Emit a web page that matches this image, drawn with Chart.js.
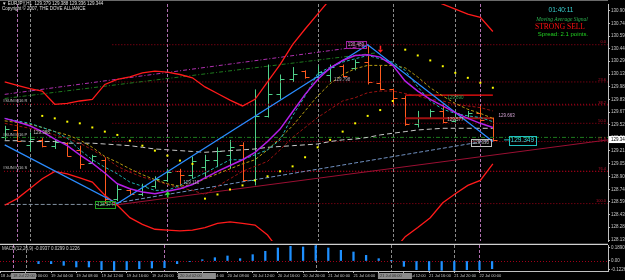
<!DOCTYPE html>
<html>
<head>
<meta charset="utf-8">
<script src="https://cdn.jsdelivr.net/npm/chart.js@4.4.1/dist/chart.umd.min.js"></script>
<style>
  html, body { margin: 0; padding: 0; background: #000; }
  #marco { position: relative; width: 625px; height: 280px; overflow: hidden; background: #000; }
  #precio { position: absolute; left: 0; top: 0; }
  #macd { position: absolute; left: 0; top: 245px; }
</style>
</head>
<body>
<div id="marco">
  <canvas id="precio" width="625" height="245"></canvas>
  <canvas id="macd" width="625" height="35"></canvas>
</div>
<script>
/******************** datos de la grafica (EURJPY) ********************/

var velaApertura = [129.38,129.46,129.28,129.34,129.26,129.30,129.22,129.06,129.10,128.63,
  128.73,128.69,128.78,128.85,128.96,128.92,129.01,129.10,129.16,129.28,
  128.86,129.63,129.90,130.08,130.17,130.10,130.13,130.23,130.21,130.28,
  130.03,129.95,129.85,129.53,129.61,129.69,129.57,129.62,129.67,129.60];
var velaMaximo = [129.51,129.54,129.43,129.36,129.34,129.31,129.27,129.16,129.13,128.80,
  128.75,128.81,128.90,128.99,128.99,129.14,129.16,129.25,129.34,129.31,
  129.95,130.25,130.13,130.22,130.18,130.24,130.25,130.25,130.31,130.49,
  130.24,129.96,129.87,129.69,129.71,129.77,129.69,129.69,129.75,129.61];
var velaMinimo = [129.34,129.32,129.20,129.25,129.23,129.14,128.99,129.05,128.57,128.60,
  128.68,128.66,128.75,128.83,128.78,128.87,128.89,129.01,128.99,128.83,
  128.79,129.61,129.83,130.04,130.08,130.07,130.04,130.10,130.18,130.01,
  129.94,129.77,129.51,129.49,129.60,129.54,129.55,129.60,129.54,129.32];
var velaCierre = [129.47,129.33,129.35,129.26,129.31,129.15,129.05,129.14,128.62,128.75,
  128.69,128.78,128.87,128.95,128.92,129.08,129.10,129.20,129.25,128.86,
  129.63,129.90,130.08,130.14,130.10,130.16,130.22,130.11,130.28,130.04,
  129.95,129.85,129.53,129.60,129.69,129.56,129.67,129.67,129.58,129.344];

var mediaMorada = [129.60,129.56,129.51,129.44,129.35,129.27,129.16,129.06,128.94,128.81,
  128.75,128.71,128.69,128.72,128.75,128.80,128.88,128.96,129.03,129.10,
  129.19,129.32,129.47,129.68,129.89,130.07,130.21,130.30,130.36,130.37,
  130.34,130.24,130.05,129.93,129.83,129.75,129.67,129.60,129.54,129.49];
var mediaTurquesa = [129.60,129.57,129.54,129.49,129.44,129.36,129.22,129.10,129.01,128.93,
  128.83,128.78,128.73,128.73,128.79,128.87,128.94,129.02,129.10,129.10,
  129.16,129.22,129.34,129.63,129.87,130.14,130.22,130.28,130.32,130.36,
  130.32,130.28,130.18,129.98,129.81,129.71,129.66,129.63,129.61,129.56];
var mediaOliva = [129.57,129.55,129.53,129.49,129.44,129.40,129.34,129.25,129.14,129.07,
  128.99,128.92,128.86,128.81,128.78,128.80,128.87,128.93,128.99,129.05,
  129.10,129.22,129.36,129.51,129.69,129.87,130.02,130.13,130.20,130.24,
  130.24,130.24,130.21,130.10,129.97,129.87,129.78,129.71,129.66,129.60];
var mediaGranate = [129.54,129.51,129.48,129.44,129.40,129.36,129.30,129.22,129.13,129.02,
  128.95,128.89,128.85,128.80,128.76,128.73,128.68,128.78,128.87,128.96,
  129.02,129.08,129.22,129.37,129.49,129.61,129.71,129.81,129.85,129.91,
  129.93,129.93,129.90,129.87,129.83,129.81,129.77,129.75,129.73,129.69];
var mediaGris = [129.33,129.33,129.32,129.32,129.32,129.30,129.30,129.30,129.29,129.28,
  129.27,129.25,129.23,129.22,129.21,129.20,129.19,129.20,129.21,129.22,
  129.23,129.25,129.26,129.27,129.28,129.29,129.32,129.34,129.35,129.37,
  129.40,129.42,129.44,129.46,129.47,129.48,129.48,129.48,129.48,129.48];

var bandaSuperior = [130.04,130.00,129.96,129.93,129.77,129.78,129.81,129.83,130.01,130.07,
  130.10,130.15,130.17,130.16,130.13,130.09,129.98,129.90,129.82,129.75,
  129.83,130.04,130.25,130.49,130.68,130.86,131.04,131.16,131.24,131.28,
  131.26,131.22,131.16,131.10,131.04,130.98,130.92,130.86,130.82,130.65];
var bandaInferior = [128.55,128.63,128.75,128.87,128.96,128.93,128.88,128.83,128.67,128.55,
  128.40,128.32,128.26,128.25,128.24,128.25,128.28,128.33,128.35,128.33,
  128.31,128.19,127.99,127.81,127.64,127.52,127.46,127.46,127.48,127.58,
  127.75,127.99,128.17,128.28,128.40,128.58,128.69,128.79,128.85,129.05];

var sarPuntos = [null,null,null,129.63,129.60,129.56,129.54,129.49,129.44,129.40,
  129.33,129.27,129.21,129.15,129.09,129.05,128.63,128.68,128.74,128.79,
  128.85,128.90,128.96,129.02,129.13,129.25,129.34,129.44,129.54,129.63,
  129.70,129.81,130.43,130.36,130.30,130.23,130.15,130.09,130.03,129.97];

var macdHist = [null,null,null,-0.039,-0.039,-0.063,-0.087,-0.087,-0.126,-0.136,
  -0.126,-0.112,-0.102,-0.097,-0.039,-0.005,0.019,0.048,0.073,0.034,
  0.092,0.141,0.189,0.213,0.204,0.223,0.189,0.155,0.131,0.082,
  0.034,0.002,-0.078,-0.126,-0.136,-0.136,-0.136,-0.126,-0.126,-0.112];

// lineas de tendencia [barra, precio]
var lineaZigzag = [[0,129.28],[9,128.57],[29,130.49],[39,129.32]];
var lineaSoporte = [[9,128.58],[39,129.34]];
var lineaBaseGris = [[0,128.56],[9,128.56]];
var lineaGranate = [[8.7,128.55],[48.2,129.34]];
var canalMagenta = [[0,129.89],[29,130.48]];
var canalVerde = [[0,129.84],[29.6,130.39]];

// niveles horizontales
var fiboNiveles = ['0.0','23.6','38.2','50.0','61.8','76.4','100.0'];
var fiboPrecios = [130.49,130.04,129.76,129.54,129.32,128.96,128.57];
var pivotNombres = ['#SUN#Q16 R','#SUN#Q16 P','#SUN#Q16 S'];
var pivotPrecios = [129.77,129.37,128.96];
var ordenPrecios = [129.88,129.60];

var barrasVerticales = [1,2,13,25,31,36,38];

var ejePrecios = [130.900,130.745,130.595,130.440,130.290,130.135,129.985,129.830,129.675,129.520,
  129.365,129.210,129.055,128.900,128.740,128.590,128.435,128.285,128.130];
var ejePreciosTexto = ['130.900','130.745','130.595','130.440','130.290','130.135','129.985','129.830','129.675','129.520',
  '129.365','129.210','129.055','128.900','128.740','128.590','128.435','128.285','128.130'];

var ejeTiempoBarras = [0,2,4,6,8,10,12,14,16,18,20,22,24,26,28,30,32,34,36,38];
var ejeTiempoTexto = ['18 Jul 2007','19 Jul 00:00','19 Jul 04:00','19 Jul 08:00','19 Jul 12:00','19 Jul 16:00',
  '19 Jul 20:00','20 Jul 00:00','20 Jul 04:00','20 Jul 08:00','20 Jul 12:00','20 Jul 16:00','20 Jul 20:00',
  '21 Jul 00:00','21 Jul 04:00','21 Jul 08:00','21 Jul 12:00','21 Jul 16:00','21 Jul 20:00','22 Jul 00:00'];
var cajasTiempo = [[0.82,2.8,'18 Jul 22:00'],[14.07,17.08,'20 Jul 02:00'],[29.94,32.64,'21 Jul 06:00']];

var ejeMacd = [0.1890,0,-0.1226];
var ejeMacdTexto = ['0.1890','0.00','-0.1226'];

var precioActual = 129.344;
var xMin = -0.056, xMax = 48.2;

Chart.defaults.font.family = 'Liberation Sans, DejaVu Sans, sans-serif';

/******************** ayudas ********************/

function serie(arr) {
  return arr.map(function (v, i) { return { x: i, y: v }; });
}
function tramo(p) {
  return p.map(function (q) { return { x: q[0], y: q[1] }; });
}
function linea(data, color, ancho, guion, orden) {
  return { data: data, borderColor: color, borderWidth: ancho, borderDash: guion || [],
    pointRadius: 0, fill: false, tension: 0, order: orden, spanGaps: false };
}

var colorAlza = '#4fd08a';
var colorBaja = '#ff5a1e';

/******************** plugins ********************/

var fondoNegro = {
  id: 'fondoNegro',
  beforeDraw: function (chart) {
    var ctx = chart.ctx;
    ctx.save();
    ctx.fillStyle = '#000';
    ctx.fillRect(0, 0, chart.width, chart.height);
    ctx.restore();
  }
};

function dibujarVerticales(chart) {
  var ctx = chart.ctx, xs = chart.scales.x, a = chart.chartArea;
  ctx.save();
  ctx.lineWidth = 1;
  ctx.setLineDash([3, 2]);
  barrasVerticales.forEach(function (b, k) {
    var x = Math.round(xs.getPixelForValue(b)) + 0.5;
    ctx.strokeStyle = (k === 0 || k === 2 || k === 6) ? '#b070b0' : '#8a8a8a';
    ctx.beginPath();
    ctx.moveTo(x, a.top);
    ctx.lineTo(x, a.bottom);
    ctx.stroke();
  });
  ctx.restore();
}

var velas = {
  id: 'velas',
  beforeDatasetsDraw: function (chart) {
    dibujarVerticales(chart);
    var ctx = chart.ctx, xs = chart.scales.x, ys = chart.scales.y;
    ctx.save();
    ctx.lineWidth = 1;
    for (var i = 0; i < velaApertura.length; i++) {
      var x = Math.round(xs.getPixelForValue(i)) + 0.5;
      ctx.strokeStyle = velaCierre[i] >= velaApertura[i] ? colorAlza : colorBaja;
      var yo = Math.round(ys.getPixelForValue(velaApertura[i])) + 0.5;
      var yc = Math.round(ys.getPixelForValue(velaCierre[i])) + 0.5;
      ctx.beginPath();
      ctx.moveTo(x, ys.getPixelForValue(velaMaximo[i]));
      ctx.lineTo(x, ys.getPixelForValue(velaMinimo[i]));
      ctx.moveTo(x - 4, yo); ctx.lineTo(x, yo);
      ctx.moveTo(x, yc); ctx.lineTo(x + 4, yc);
      ctx.stroke();
    }
    ctx.restore();
  }
};

function caja(ctx, txt, cx, cy, borde, color, tam, relleno) {
  ctx.font = tam + 'px Liberation Sans';
  var w = ctx.measureText(txt).width + 4, h = tam + 2;
  if (relleno) { ctx.fillStyle = relleno; ctx.fillRect(cx - w / 2, cy - h / 2, w, h); }
  if (borde) {
    ctx.strokeStyle = borde; ctx.lineWidth = 1;
    ctx.strokeRect(Math.round(cx - w / 2) + 0.5, Math.round(cy - h / 2) + 0.5, Math.round(w), Math.round(h));
  }
  ctx.fillStyle = color;
  ctx.textAlign = 'center';
  ctx.textBaseline = 'middle';
  ctx.fillText(txt, cx, cy + 0.5);
}

var notas = {
  id: 'notas',
  afterDraw: function (chart) {
    var ctx = chart.ctx, xs = chart.scales.x, ys = chart.scales.y, a = chart.chartArea;
    function px(b) { return xs.getPixelForValue(b); }
    function py(p) { return ys.getPixelForValue(p); }
    ctx.save();

    // separador con la ventana del MACD y borde superior
    ctx.strokeStyle = '#d0d0d0';
    ctx.lineWidth = 1.5;
    ctx.beginPath(); ctx.moveTo(0, 244.5); ctx.lineTo(a.right, 244.5); ctx.stroke();
    ctx.strokeStyle = '#6a6a6a';
    ctx.lineWidth = 1;
    ctx.beginPath(); ctx.moveTo(0, 0.5); ctx.lineTo(a.right, 0.5); ctx.stroke();

    // etiquetas de fibonacci
    ctx.font = '4px Liberation Sans';
    ctx.fillStyle = '#b0102a';
    ctx.textAlign = 'right';
    ctx.textBaseline = 'bottom';
    fiboNiveles.forEach(function (t, k) { ctx.fillText(t, a.right - 2, py(fiboPrecios[k]) - 0.5); });

    // etiquetas de pivotes
    ctx.fillStyle = '#c8c8c8';
    ctx.textAlign = 'left';
    pivotNombres.forEach(function (t, k) { ctx.fillText(t, 3, py(pivotPrecios[k]) - 1); });

    // cajas y textos de precio
    caja(ctx, '130.489', px(28.05), py(130.50), '#a020a0', '#e0a0e0', 4.5);
    caja(ctx, '128.574', px(8.05), py(128.56), '#20a020', '#60d060', 4.5);
    caja(ctx, '129.330', px(38.05), py(129.31), '#c0c0c0', '#c0c0c0', 4.5);
    caja(ctx, '129.349', px(41.35), py(129.34), '#20c0c0', '#30d8d8', 6.5);
    caja(ctx, '129.798', px(26.95), py(130.07), null, '#b8a8b8', 4.5);
    caja(ctx, '129.110', px(14.9), py(128.83), null, '#b8a8b8', 4.5);
    caja(ctx, '129.890', px(36.0), py(129.86), null, '#30a050', 4.5);
    caja(ctx, '129.577', px(36.0), py(129.59), null, '#c0c0c0', 4.5);
    caja(ctx, '129.663', px(40.1), py(129.64), null, '#d0a0d0', 4.5);
    caja(ctx, '129.388', px(2.95), py(129.43), null, '#c0c0c0', 4.5);
    ctx.strokeStyle = '#20c0c0';
    ctx.beginPath(); ctx.moveTo(px(39.9), py(129.34)); ctx.lineTo(px(40.4), py(129.34)); ctx.stroke();

    // flecha de venta y de compra
    var fx = px(30), fy = py(130.43);
    ctx.fillStyle = '#ff2020';
    ctx.fillRect(fx - 0.5, fy - 4, 1.5, 4);
    ctx.beginPath(); ctx.moveTo(fx - 2.5, fy); ctx.lineTo(fx + 3, fy); ctx.lineTo(fx + 0.25, fy + 3); ctx.fill();
    fx = px(13); fy = py(128.68);
    ctx.fillStyle = '#30e030';
    ctx.fillRect(fx - 0.5, fy - 1, 1.5, 4);
    ctx.beginPath(); ctx.moveTo(fx - 2.5, fy); ctx.lineTo(fx + 3, fy); ctx.lineTo(fx + 0.25, fy - 3); ctx.fill();

    // precio actual en el eje
    var yp = py(precioActual);
    ctx.fillStyle = '#ffffff';
    ctx.fillRect(a.right + 1, yp - 3.5, 17, 7);
    ctx.fillStyle = '#000';
    ctx.font = '4.5px Liberation Sans';
    ctx.textAlign = 'left';
    ctx.textBaseline = 'middle';
    ctx.fillText(precioActual.toFixed(3), a.right + 3, yp);

    // encabezado
    ctx.fillStyle = '#e0e0e0';
    ctx.font = '4.5px Liberation Sans, DejaVu Sans';
    ctx.textBaseline = 'middle';
    ctx.fillText('\u25BC EURJPY,H1  129.379 129.388 129.336 129.344', 2, 3.5);
    ctx.fillText('Copyright \u00A9 2007, THE DOVE ALLIANCE', 2, 8.5);

    // panel de senal
    ctx.textAlign = 'center';
    ctx.fillStyle = '#38d0d0';
    ctx.font = '6.5px Liberation Sans';
    ctx.fillText('01:40:11', 561, 10.5);
    ctx.fillStyle = '#2cb050';
    ctx.font = 'italic 5.5px Liberation Serif';
    ctx.fillText('Moving Average Signal', 562, 19.5);
    ctx.fillStyle = '#ff1010';
    ctx.font = '7.5px Liberation Serif';
    ctx.fillText('STRONG SELL', 560, 27.5);
    ctx.fillStyle = '#22d022';
    ctx.font = '6px Liberation Sans';
    ctx.fillText('Spread: 2.1 points.', 563, 34.5);

    ctx.restore();
  }
};

/******************** grafica de precio ********************/

var conjuntos = [
  Object.assign(linea(serie(sarPuntos), '#ffff00', 0, [], 0),
    { showLine: false, pointRadius: 1.4, pointStyle: 'rect', pointBackgroundColor: '#ffff00', pointBorderWidth: 0 }),
  linea(serie(mediaMorada), '#b41ee8', 1.5, [], 1),
  linea(tramo(lineaZigzag), '#2a8cff', 1.3, [], 2),
  linea(serie(bandaSuperior), '#ff1a1a', 1.3, [], 2),
  linea(serie(bandaInferior), '#ff1a1a', 1.3, [], 2),
  linea(serie(mediaTurquesa), '#20b0b0', 1, [3, 2], 3),
  linea(serie(mediaOliva), '#b49a10', 1, [3, 2], 3),
  linea(serie(mediaGranate), '#9a1212', 1, [3, 2], 3),
  linea(serie(mediaGris), '#c8c8c8', 1, [5, 3], 3),
  linea(tramo(lineaSoporte), '#7090c0', 1, [4, 2], 4),
  linea(tramo(lineaBaseGris), '#8090a0', 1, [4, 2], 4),
  linea(tramo(lineaGranate), '#9a0f32', 1, [], 4),
  linea(tramo(canalMagenta), '#b030b0', 1, [4, 2, 1, 2], 4),
  linea(tramo(canalVerde), '#1e7a1e', 1, [4, 2, 1, 2], 4)
];

fiboPrecios.forEach(function (p) {
  conjuntos.push(linea([{ x: 8.6, y: p }, { x: xMax, y: p }], '#a00018', 1, [1, 2], 5));
});
pivotPrecios.forEach(function (p, k) {
  conjuntos.push(linea([{ x: xMin, y: p }, { x: xMax, y: p }], k === 1 ? '#1e7a1e' : '#a00018', 1, k === 1 ? [4, 2, 1, 2] : [1, 2], 5));
});
conjuntos.push(linea([{ x: 32, y: ordenPrecios[0] }, { x: 39, y: ordenPrecios[0] }], '#ff1010', 1.2, [], 5));
conjuntos.push(linea([{ x: 32, y: ordenPrecios[1] }, { x: 39, y: ordenPrecios[1] }], '#a01010', 2, [], 5));

var configPrecio = {
  type: 'line',
  data: { datasets: conjuntos },
  options: {
    responsive: false,
    animation: false,
    layout: { padding: { top: 0, left: 0, right: 0, bottom: 1 } },
    plugins: { legend: { display: false }, tooltip: { enabled: false } },
    scales: {
      x: { type: 'linear', min: xMin, max: xMax, display: false },
      y: {
        type: 'linear', position: 'right',
        min: 128.118, max: 130.982,
        afterBuildTicks: function (s) { s.ticks = ejePrecios.map(function (v) { return { value: v }; }); },
        afterFit: function (s) { s.width = 17; s.paddingTop = 0; s.paddingBottom = 0; },
        border: { display: true, color: '#c0c0c0', width: 1 },
        grid: { display: true, drawOnChartArea: false, tickLength: 2, color: '#c0c0c0' },
        ticks: {
          autoSkip: false, padding: 1, color: '#c8c8c8', font: { size: 4.5 },
          callback: function (v, i) { return ejePreciosTexto[i]; }
        }
      }
    }
  },
  plugins: [fondoNegro, velas, notas]
};

if (!!document.getElementById('precio').getContext('2d')) {
  var chart = new Chart(document.getElementById('precio').getContext('2d'), configPrecio);
}

/******************** ventana del MACD ********************/

var notasMacd = {
  id: 'notasMacd',
  beforeDatasetsDraw: function (chart) {
    dibujarVerticales(chart);
    var ctx = chart.ctx, ys = chart.scales.y, a = chart.chartArea;
    var y0 = Math.round(ys.getPixelForValue(0)) + 0.5;
    ctx.save();
    ctx.strokeStyle = '#a00018';
    ctx.setLineDash([1, 2]);
    ctx.beginPath(); ctx.moveTo(0, y0); ctx.lineTo(a.right, y0); ctx.stroke();
    ctx.restore();
  },
  afterDraw: function (chart) {
    var ctx = chart.ctx, xs = chart.scales.x, a = chart.chartArea;
    ctx.save();
    ctx.fillStyle = '#d0d0d0';
    ctx.font = '4.5px Liberation Sans';
    ctx.textAlign = 'left';
    ctx.textBaseline = 'middle';
    ctx.fillText('MACD(12,26,9) -0.0937 0.0299 0.1226', 2, 3.5);
    cajasTiempo.forEach(function (c) {
      var x1 = xs.getPixelForValue(c[0]), x2 = xs.getPixelForValue(c[1]);
      ctx.fillStyle = '#8c8c8c';
      ctx.fillRect(x1, a.bottom + 2, x2 - x1, 6);
      ctx.fillStyle = '#303030';
      ctx.font = '4px Liberation Sans';
      ctx.fillText(c[2], x1 + 2, a.bottom + 5);
    });
    ctx.restore();
  }
};

var configMacd = {
  type: 'bar',
  data: {
    datasets: [{
      data: serie(macdHist),
      backgroundColor: '#1e90ff',
      barThickness: 1.6
    }]
  },
  options: {
    responsive: false,
    animation: false,
    layout: { padding: 0 },
    plugins: { legend: { display: false }, tooltip: { enabled: false } },
    scales: {
      x: {
        type: 'linear', min: xMin, max: xMax, offset: false,
        afterBuildTicks: function (s) { s.ticks = ejeTiempoBarras.map(function (v) { return { value: v }; }); },
        afterFit: function (s) { s.height = 9; s.paddingLeft = 0; s.paddingRight = 0; },
        border: { display: true, color: '#c0c0c0', width: 1 },
        grid: { display: true, drawOnChartArea: false, tickLength: 2, color: '#c0c0c0', offset: false },
        ticks: {
          autoSkip: false, maxRotation: 0, minRotation: 0, align: 'start', padding: 0.5,
          color: '#c8c8c8', font: { size: 4 },
          callback: function (v, i) { return ejeTiempoTexto[i]; }
        }
      },
      y: {
        type: 'linear', position: 'right',
        min: -0.1454, max: 0.2326,
        afterBuildTicks: function (s) { s.ticks = ejeMacd.map(function (v) { return { value: v }; }); },
        afterFit: function (s) { s.width = 17; s.paddingTop = 0; s.paddingBottom = 0; },
        border: { display: true, color: '#c0c0c0', width: 1 },
        grid: { display: true, drawOnChartArea: false, tickLength: 2, color: '#c0c0c0' },
        ticks: {
          autoSkip: false, padding: 1, color: '#c8c8c8', font: { size: 4.5 },
          callback: function (v, i) { return ejeMacdTexto[i]; }
        }
      }
    }
  },
  plugins: [fondoNegro, notasMacd]
};

if (!!document.getElementById('macd').getContext('2d')) {
  var chartMacd = new Chart(document.getElementById('macd').getContext('2d'), configMacd);
}
</script>
</body>
</html>
